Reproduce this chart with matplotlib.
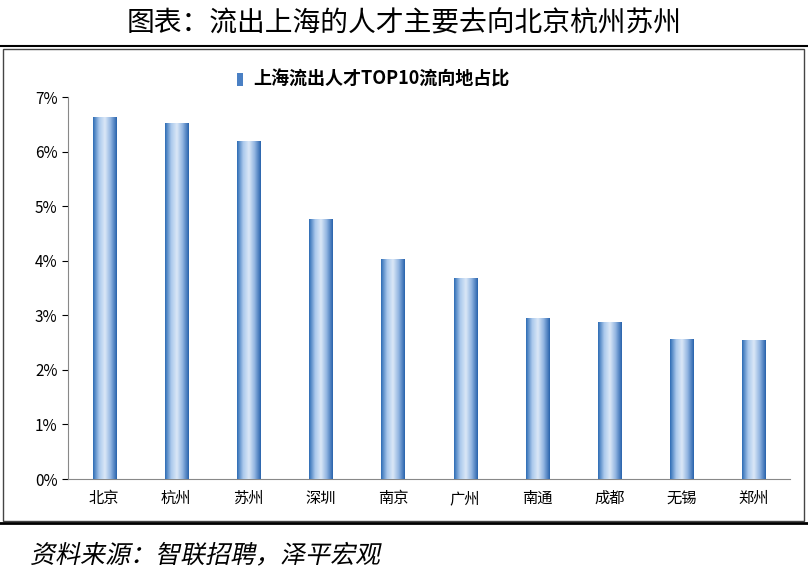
import matplotlib
matplotlib.use('Agg')
import matplotlib.pyplot as plt
import numpy as np
from matplotlib.patches import Rectangle, PathPatch
from matplotlib.colors import LinearSegmentedColormap
from matplotlib.textpath import TextPath
from matplotlib.font_manager import FontProperties
from matplotlib.transforms import Affine2D

plt.rcParams['font.family'] = ['Noto Sans CJK SC', 'DejaVu Sans']

cities = ['北京', '杭州', '苏州', '深圳', '南京', '广州', '南通', '成都', '无锡', '郑州']
shares = [6.63, 6.52, 6.20, 4.76, 4.04, 3.68, 2.95, 2.87, 2.57, 2.54]
yticks = [0, 1, 2, 3, 4, 5, 6, 7]

fig = plt.figure(figsize=(8.08, 5.79), dpi=100)
ax = fig.add_axes([68/808, 100/579, 722/808, 382/579])

# 圆柱渐变效果
cmap = LinearSegmentedColormap.from_list('cyl', ['#2f6db5', '#a9c8ec', '#dbe8f7', '#8fb3e0', '#2a64ad'])
grad = np.linspace(0, 1, 64).reshape(1, -1)
bars = ax.bar(cities, shares, width=0.32, color='#4a80c4', zorder=2)
for b in bars:
    x0, w, h = b.get_x(), b.get_width(), b.get_height()
    im = ax.imshow(grad, cmap=cmap, aspect='auto', extent=[x0, x0 + w, 0, h], zorder=3)
    im.set_clip_path(b)

ax.set_xlim(-0.5, len(cities) - 0.5)
ax.set_ylim(0, 7)
ax.set_yticks(yticks)
ax.set_yticklabels([f'{v}%' for v in yticks], fontsize=11)
ax.tick_params(axis='x', labelsize=11, length=0, pad=8)
ax.tick_params(axis='y', direction='out', length=4)
for s in ['top', 'right']:
    ax.spines[s].set_visible(False)
ax.spines['left'].set_color('#888888')
ax.spines['bottom'].set_color('#888888')

# 图例
fig.patches.append(Rectangle((237/808, 1 - 86/579), 6/808, 13/579, transform=fig.transFigure,
                             facecolor='#4a80c4', edgecolor='none'))
fig.text(253/808, 1 - 79/579, '上海流出人才TOP10流向地占比', fontsize=13, fontweight='bold',
         va='center', ha='left', family=['Noto Sans CJK SC', 'DejaVu Serif'])

# 标题与边框
fig.text(0.5, 1 - 24/579, '图表：流出上海的人才主要去向北京杭州苏州', fontsize=20,
         ha='center', va='center')
fig.add_artist(plt.Line2D([0, 1], [1 - 46/579, 1 - 46/579], color='black', lw=1.5))
fig.patches.append(Rectangle((3/808, 1 - 521/579), 801/808, 472/579, transform=fig.transFigure,
                             facecolor='none', edgecolor='#444444', lw=1))
fig.add_artist(plt.Line2D([0, 1], [1 - 523/579, 1 - 523/579], color='black', lw=2))

# 斜体来源（CJK字体无斜体，用剪切变换模拟）
tp = TextPath((0, 0), '资料来源：智联招聘，泽平宏观', size=25,
              prop=FontProperties(family='Noto Sans CJK SC'))
tr = Affine2D().skew_deg(12, 0).translate(30, 579 - 563)
fig.patches.append(PathPatch(tr.transform_path(tp), transform=None,
                             facecolor='black', edgecolor='none'))

fig.savefig('out.png', dpi=100)
